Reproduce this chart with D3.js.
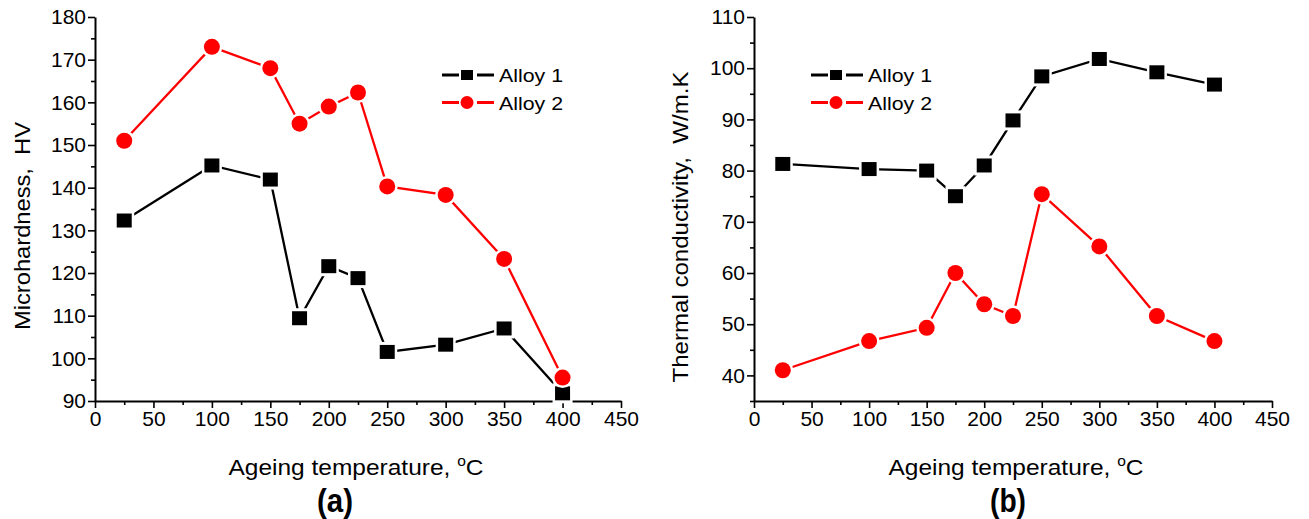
<!DOCTYPE html>
<html><head><meta charset="utf-8">
<script src="https://cdn.jsdelivr.net/npm/d3@7"></script>
<style>
body{margin:0;background:#fff;}
text{font-family:"Liberation Sans",Arial,sans-serif;fill:#000;}
</style></head>
<body><svg id="c" width="1309" height="519"></svg>
<script>
const temps = [25,100,150,175,200,225,250,300,350,400];
const hardAlloy1 = [132.3,145.2,141.9,109.4,121.6,118.8,101.5,103.2,107.0,91.8];
const hardAlloy2 = [151.0,173.0,168.0,155.0,159.0,162.3,140.3,138.3,123.3,95.5];
const condAlloy1 = [81.3,80.3,80.0,75.0,81.0,89.8,98.4,101.8,99.2,96.8];
const condAlloy2 = [41.0,46.7,49.3,60.0,53.9,51.6,75.4,65.2,51.6,46.7];
const xTicks = [0,50,100,150,200,250,300,350,400,450];
const hardTicks = [90,100,110,120,130,140,150,160,170,180];
const condTicks = [40,50,60,70,80,90,100,110];
const seriesNames = ["Alloy 1","Alloy 2"];
const colors = ["#000000","#ff0000"];

const svg = d3.select("#c");

function panel(o){
  const g = svg.append("g");
  const x = d3.scaleLinear().domain([0,450]).range([o.x0,o.x1]);
  const y = d3.scaleLinear().domain(o.yDom).range([o.y1,o.y0]);
  const xMinor = d3.range(0,451,25).filter(v=>v%50!==0);
  const yMinor = d3.range(o.yDom[0],o.yDom[1]+0.01,5).filter(v=>v%10!==0);
  g.append("g").attr("transform",`translate(0,${o.y1})`)
    .call(d3.axisBottom(x).tickValues(xMinor).tickSize(4).tickFormat(""))
    .call(a=>a.select(".domain").remove())
    .selectAll("line").attr("stroke-width",1.6);
  g.append("g").attr("transform",`translate(${o.x0},0)`)
    .call(d3.axisLeft(y).tickValues(yMinor).tickSize(4).tickFormat(""))
    .call(a=>a.select(".domain").remove())
    .selectAll("line").attr("stroke-width",1.6);
  const xa = g.append("g").attr("transform",`translate(0,${o.y1})`)
    .call(d3.axisBottom(x).tickValues(xTicks).tickSize(7).tickSizeOuter(0).tickPadding(3));
  const ya = g.append("g").attr("transform",`translate(${o.x0},0)`)
    .call(d3.axisLeft(y).tickValues(o.yTicks).tickSize(7).tickSizeOuter(0).tickPadding(2));
  [xa,ya].forEach(a=>{
    a.select(".domain").attr("stroke-width",2);
    a.selectAll("line").attr("stroke-width",1.6);
    a.selectAll("text").style("font-size","21px").style("font-family","Liberation Sans, Arial, sans-serif");
  });
  const line = d3.line().x((d,i)=>x(temps[i])).y(d=>y(d));
  o.series.forEach((s,k)=>{
    g.append("path").attr("d",line(s)).attr("fill","none")
      .attr("stroke",colors[k]).attr("stroke-width",2.3);
  });
  g.selectAll(".sqh").data(o.series[0]).enter().append("rect")
    .attr("x",(d,i)=>x(temps[i])-10).attr("y",d=>y(d)-10)
    .attr("width",20).attr("height",20).attr("fill","#fff");
  g.selectAll(".sq").data(o.series[0]).enter().append("rect")
    .attr("x",(d,i)=>x(temps[i])-7.5).attr("y",d=>y(d)-7)
    .attr("width",15).attr("height",14).attr("fill",colors[0]);
  g.selectAll(".cih").data(o.series[1]).enter().append("circle")
    .attr("cx",(d,i)=>x(temps[i])).attr("cy",d=>y(d)).attr("r",10.5)
    .attr("fill","#fff");
  g.selectAll(".ci").data(o.series[1]).enter().append("circle")
    .attr("cx",(d,i)=>x(temps[i])).attr("cy",d=>y(d)).attr("r",8)
    .attr("fill",colors[1]);
  seriesNames.forEach((n,k)=>{
    const ly = o.legY + k*27.5, lx = o.legX;
    g.append("line").attr("x1",lx).attr("x2",lx+17).attr("y1",ly).attr("y2",ly)
      .attr("stroke",colors[k]).attr("stroke-width",3);
    g.append("line").attr("x1",lx+35).attr("x2",lx+52).attr("y1",ly).attr("y2",ly)
      .attr("stroke",colors[k]).attr("stroke-width",3);
    if(k===0) g.append("rect").attr("x",lx+25-6).attr("y",ly-5).attr("width",12).attr("height",10).attr("fill",colors[0]);
    else g.append("circle").attr("cx",lx+25).attr("cy",ly).attr("r",6.5).attr("fill",colors[1]);
    g.append("text").attr("x",lx+57).attr("y",ly+7).style("font-size","19px")
      .attr("textLength",64).attr("lengthAdjust","spacingAndGlyphs").text(n);
  });
  const xt = g.append("text").attr("x",o.xtX).attr("y",475)
    .attr("text-anchor","middle").style("font-size","22px")
    .attr("textLength",255).attr("lengthAdjust","spacingAndGlyphs");
  xt.append("tspan").text("Ageing temperature, ");
  xt.append("tspan").attr("dy",-9).style("font-size","14px").text("o");
  xt.append("tspan").attr("dy",9).text("C");
  g.append("text").attr("transform",`translate(${o.ytX},${o.ytY}) rotate(-90)`)
    .attr("text-anchor","middle").style("font-size","22px")
    .attr("textLength",o.ytLen).attr("lengthAdjust","spacingAndGlyphs")
    .text(o.yTitle);
  g.append("text").attr("x",o.labX).attr("y",512)
    .attr("text-anchor","middle").style("font-size","34px").style("font-weight","bold")
    .attr("textLength",36).attr("lengthAdjust","spacingAndGlyphs")
    .text(o.label);
}

panel({x0:95,x1:621,y0:17,y1:401,yDom:[90,180],yTicks:hardTicks,
  series:[hardAlloy1,hardAlloy2],legX:442,legY:75,xtX:356,
  yTitle:"Microhardness,\u00a0 HV",ytX:30,ytY:226,ytLen:208,labX:335,label:"(a)"});
panel({x0:754,x1:1272,y0:17,y1:401,yDom:[35,110],yTicks:condTicks,
  series:[condAlloy1,condAlloy2],legX:811,legY:75,xtX:1016,
  yTitle:"Thermal conductivity,\u00a0 W/m.K",ytX:688,ytY:227,ytLen:311,labX:1008,label:"(b)"});
</script></body></html>
